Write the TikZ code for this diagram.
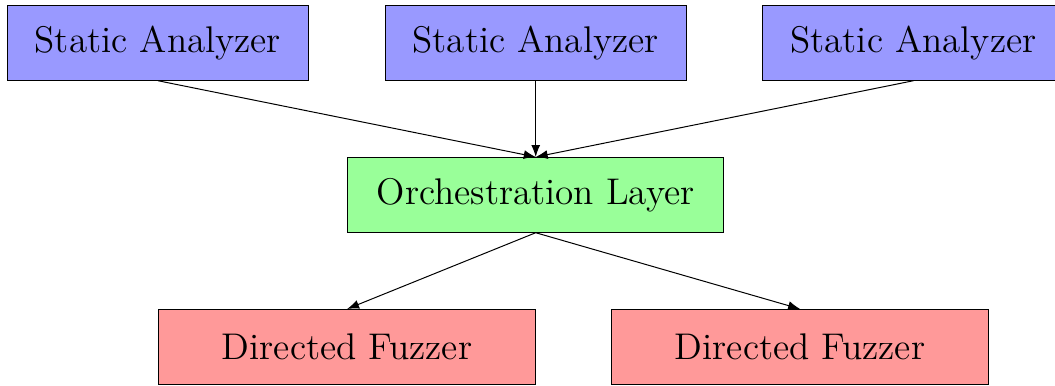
\documentclass[tikz,border=0pt]{standalone}
\usepackage{tikz}
\usetikzlibrary{positioning,arrows.meta,calc}
\tikzset{
  >=Latex,
  box/.style={
    draw,
    font=\fontsize{14.9}{18}\selectfont,
    minimum height=30pt
  },
  analyzer/.style={box, fill=blue!40, minimum width=120.8pt},
  orch/.style={box, fill=green!40, minimum width=151pt},
  fuzz/.style={box, fill=red!40, minimum width=151pt}
}

\begin{document}
\begin{tikzpicture}[node distance=30.6pt and 30.4pt]
  \node[orch] (orch) {Orchestration Layer};
  \node[analyzer, above=of orch] (sa2) {Static Analyzer};
  \node[analyzer, left=of sa2] (sa1) {Static Analyzer};
  \node[analyzer, right=of sa2] (sa3) {Static Analyzer};
  \node[fuzz, below=of orch.south, anchor=north east] (df1) {Directed Fuzzer};
  \node[fuzz, right=of df1] (df2) {Directed Fuzzer};

  \draw[->] (sa1.south) -- (orch.north);
  \draw[->] (sa2.south) -- (orch.north);
  \draw[->] (sa3.south) -- (orch.north);
  \draw[->] (orch.south) -- (df1.north);
  \draw[->] (orch.south) -- (df2.north);

  % page edges: the right box runs off the page
  \pgfresetboundingbox
  \useasboundingbox ($(sa1.north west)+(-2.8pt,2pt)$)
    rectangle ($(sa3.east |- df2.south)+(-3.8pt,-0.4pt)$);
\end{tikzpicture}
\end{document}
